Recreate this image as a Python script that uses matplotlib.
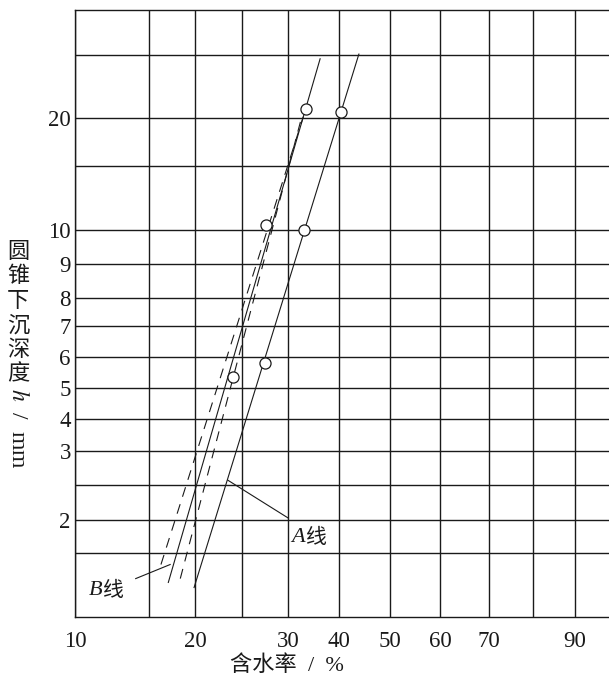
import numpy as np
import matplotlib
matplotlib.use("Agg")
import matplotlib.pyplot as plt
from matplotlib.ticker import FixedLocator, NullFormatter, FixedFormatter

plt.rcParams['font.family'] = ['Liberation Serif', 'Noto Sans CJK SC']
plt.rcParams['mathtext.fontset'] = 'stix'

# -----------------------------
# Graph paper of the original chart: value -> distance along axis (px)
# (the printed grid is neither linear nor a true log scale)
# -----------------------------
x_paper_val = np.array([10, 15, 20, 25, 30, 40, 50, 60, 70, 80, 90, 100])
x_paper_pos = np.array([0, 74, 120, 167, 213, 264, 315, 365, 414, 458, 500, 542])
y_paper_val = np.array([1, 1.5, 2, 2.5, 3, 4, 5, 6, 7, 8, 9, 10, 15, 20, 30, 40])
y_paper_pos = np.array([0, 64, 97, 132, 166, 198, 229, 260, 291, 319, 353, 387, 451, 499, 562, 607])

x_labels = [10, 20, 30, 40, 50, 60, 70, 90]
x_extra_grid = [15, 25, 80]
y_labels = [2, 3, 4, 5, 6, 7, 8, 9, 10, 20]
y_extra_grid = [1.5, 2.5, 15, 30]

# -----------------------------
# Data
# -----------------------------
w_a = [27.5, 33.1, 40.4]      # water content, %
h_a = [5.8, 10.0, 21.0]       # cone depth, mm
w_b = [24.0, 27.6, 33.5]
h_b = [5.35, 10.4, 21.4]

a_line_w = [19.9, 43.9]
a_line_h = [1.23, 30.2]
b_line_w = [17.1, 36.3]
b_line_h = [1.27, 29.4]
b_dash1_w = [16.3, 33.0]
b_dash1_h = [1.41, 20.2]
b_dash2_w = [18.4, 32.7]
b_dash2_h = [1.30, 20.2]

a_lead_w = [23.5, 30.0]
a_lead_h = [2.57, 2.03]
b_lead_w = [14.1, 17.3]
b_lead_h = [1.30, 1.41]


def fwd_x(v):
    return np.interp(v, x_paper_val, x_paper_pos)


def inv_x(p):
    return np.interp(p, x_paper_pos, x_paper_val)


def fwd_y(v):
    return np.interp(v, y_paper_val, y_paper_pos)


def inv_y(p):
    return np.interp(p, y_paper_pos, y_paper_val)


def line_label(x, y, letter):
    # italic Latin letter followed by the Chinese character
    ax.text(x, y, letter, fontsize=16, style='italic', ha='right', va='center',
            family='Liberation Serif', color=INK)
    ax.text(x, y, '线', fontsize=15, ha='left', va='center',
            family='Noto Sans CJK SC', color=INK)


INK = '#1a1a1a'
W, H = 609, 676
fig = plt.figure(figsize=(W / 100, H / 100), dpi=100)
ax = fig.add_axes([75 / W, (H - 617) / H, (W - 75) / W, (617 - 10) / H])

ax.set_xscale('function', functions=(fwd_x, inv_x))
ax.set_yscale('function', functions=(fwd_y, inv_y))
ax.set_xlim(10, 98.1)
ax.set_ylim(1, 40)

ax.xaxis.set_major_locator(FixedLocator(x_labels))
ax.xaxis.set_major_formatter(FixedFormatter([str(v) for v in x_labels]))
ax.xaxis.set_minor_locator(FixedLocator(x_extra_grid))
ax.xaxis.set_minor_formatter(NullFormatter())
ax.yaxis.set_major_locator(FixedLocator(y_labels))
ax.yaxis.set_major_formatter(FixedFormatter([str(v) for v in y_labels]))
ax.yaxis.set_minor_locator(FixedLocator(y_extra_grid))
ax.yaxis.set_minor_formatter(NullFormatter())

ax.tick_params(which='both', length=0, labelsize=16.5, colors=INK)
ax.tick_params(axis='x', pad=10)
ax.tick_params(axis='y', pad=3)
ax.grid(which='both', color=INK, lw=1.0)
for s in ['left', 'top', 'bottom']:
    ax.spines[s].set_linewidth(1.0)
    ax.spines[s].set_color(INK)
ax.spines['right'].set_visible(False)

# fitted lines
ax.plot(a_line_w, a_line_h, color=INK, lw=0.8)
ax.plot(b_line_w, b_line_h, color=INK, lw=0.8)
ax.plot(b_dash1_w, b_dash1_h, color=INK, lw=0.8, dashes=(9, 7))
ax.plot(b_dash2_w, b_dash2_h, color=INK, lw=0.8, dashes=(9, 7))

# measured points
ax.plot(w_a, h_a, 'o', ms=8, mfc='white', mec=INK, mew=0.9, zorder=5)
ax.plot(w_b, h_b, 'o', ms=8, mfc='white', mec=INK, mew=0.9, zorder=5)

# leaders and labels
ax.plot(a_lead_w, a_lead_h, color=INK, lw=0.8)
ax.plot(b_lead_w, b_lead_h, color=INK, lw=0.8)
line_label(33.4, 1.74, 'A')
line_label(11.85, 1.21, 'B')

# axis titles
fig.text(287 / W, 1 - 666 / H, '含水率  /  %', fontsize=16, ha='center', va='center', color=INK)
fig.text(18 / W, 1 - 240 / H, '\n'.join('圆锥下沉深度'), fontsize=16, ha='center', va='top',
         linespacing=1.08, color=INK, family='Noto Sans CJK SC')
fig.text(18 / W, 1 - 388 / H, '$h$  /  mm', fontsize=17, rotation=-90, ha='center', va='top',
         color=INK)

fig.savefig('out.png', dpi=100)
